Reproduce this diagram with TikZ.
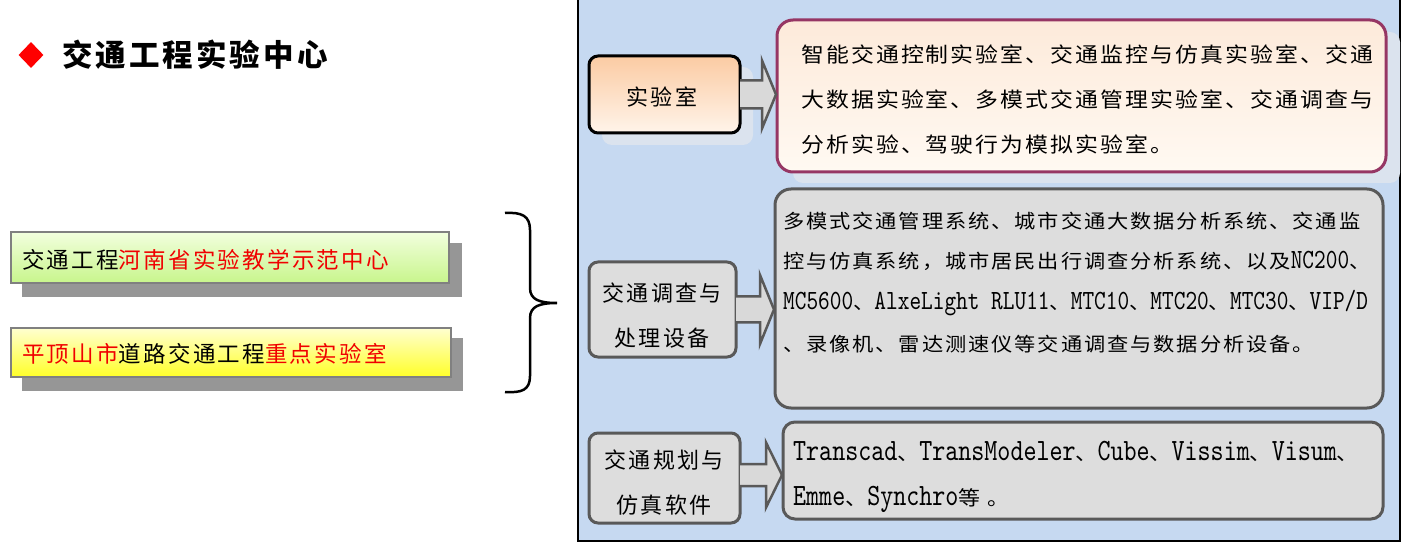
\documentclass[tikz,border=0pt]{standalone}
\usepackage{fontspec}
\usetikzlibrary{shapes.geometric,calc}
\newfontfamily\cjkls[LetterSpace=10]{Noto Sans CJK SC}
\newfontfamily\cjkr[FakeStretch=1.1,LetterSpace=10]{Noto Sans CJK SC}
\newfontfamily\cjkt[LetterSpace=10]{Noto Sans CJK SC}
\newfontfamily\monof{lmmono10-regular}[Extension=.otf,FakeStretch=0.8]
\newcommand\ascB[1]{{\monof\fontsize{27.8}{30}\selectfont #1}}
\newcommand\ascC[1]{{\monof\fontsize{31}{32}\selectfont #1}}
\newcommand\blockarr[5]{\filldraw[blockarrow] ($(#1)+(0,-#3)$) -- ($(#2)+(-#5,-#3)$) -- ($(#2)+(-#5,-#4)$) -- (#2) -- ($(#2)+(-#5,#4)$) -- ($(#2)+(-#5,#3)$) -- ($(#1)+(0,#3)$);}
\definecolor{panelblue}{RGB}{198,217,241}
\definecolor{shadecol}{RGB}{219,227,238}
\definecolor{peachtop}{RGB}{251,203,163}
\definecolor{peachbot}{RGB}{255,244,234}
\definecolor{plum}{RGB}{150,54,100}
\definecolor{creamtop}{RGB}{253,234,218}
\definecolor{creambot}{RGB}{255,249,242}
\definecolor{boxgray}{RGB}{221,221,221}
\definecolor{edgegray}{RGB}{89,89,89}
\definecolor{arrowfill}{RGB}{217,217,217}
\definecolor{greentop}{RGB}{242,255,222}
\definecolor{greenbot}{RGB}{200,245,140}
\definecolor{yellowtop}{RGB}{255,255,208}
\definecolor{yellowbot}{RGB}{255,255,40}
\definecolor{lshadow}{RGB}{150,150,150}
\definecolor{lborder}{RGB}{128,128,128}
\definecolor{tred}{RGB}{240,0,0}
\begin{document}
\begin{tikzpicture}[x=1pt,y=-1pt,
  plainbox/.style={rectangle,inner sep=0pt,outer sep=0pt},
  softshadow/.style={plainbox,fill=shadecol,rounded corners=10pt},
  labbox/.style={plainbox,draw=edgegray,fill=boxgray,line width=3pt,rounded corners=9pt},
  infobox/.style={plainbox,draw=edgegray,fill=boxgray,line width=3pt,rounded corners=16pt},
  leftbox/.style={plainbox,draw=lborder,line width=2pt},
  leftshadow/.style={plainbox,fill=lshadow},
  blockarrow/.style={draw=edgegray,fill=arrowfill,line width=2.5pt},
  labtext/.style={anchor=base,inner sep=0pt,font=\cjkls\fontsize{22}{26}\selectfont},
  lefttext/.style={anchor=base west,inner sep=0pt,font=\cjkls\fontsize{22.5}{26}\selectfont},
  rtextA/.style={anchor=base west,inner sep=0pt,font=\cjkr\fontsize{20.8}{26}\selectfont},
  rtextB/.style={anchor=base west,inner sep=0pt,font=\cjkr\fontsize{19.3}{26}\selectfont},
  rtextC/.style={anchor=base west,inner sep=0pt,font=\cjkr\fontsize{20}{26}\selectfont}
]
\useasboundingbox (0,0) rectangle (1403,545);
\fill[white] (0,0) rectangle (1403,545);

% title
\node[diamond,fill=red,minimum width=25pt,minimum height=26pt,inner sep=0pt] (dia) at (31,55) {};
\node[anchor=base west,inner sep=0pt,font=\cjkt\bfseries\fontsize{30.5}{34}\selectfont] (title) at (62,66.6) {交通工程实验中心};

% left boxes
\node[leftshadow,minimum width=440pt,minimum height=54pt] (las) at (242,270) {};
\node[leftbox,top color=greentop,bottom color=greenbot,minimum width=438pt,minimum height=51pt] (la) at (230,257.5) {};
\node[lefttext] (lat) at (22,268.5) {交通工程\textcolor{tred}{河南省实验教学示范中心}};
\node[leftshadow,minimum width=441pt,minimum height=53pt] (lbs) at (242.5,364.5) {};
\node[leftbox,top color=yellowtop,bottom color=yellowbot,minimum width=440pt,minimum height=49pt] (lb) at (231,352.5) {};
\node[lefttext] (lbt) at (22,362.5) {\textcolor{tred}{平顶山市}道路交通工程\textcolor{tred}{重点实验室}};

% brace
\draw[line width=2.5pt] (505,213) .. controls (522,212) and (530,216) .. (530,230)
  -- (530,288) .. controls (530,300) and (540,303) .. (557,303)
  .. controls (540,303) and (530,306) .. (530,318)
  -- (530,376) .. controls (530,390) and (522,393) .. (505,392);

% panel
\draw[fill=panelblue,line width=2.5pt] (578,-5) rectangle (1400,541);

% shadows
\node[softshadow,minimum width=151pt,minimum height=78pt] (b1ls) at (677.5,106) {};
\node[softshadow,minimum width=607pt,minimum height=151pt] (b1rs) at (1096.5,107.5) {};

% row 1
\node[plainbox,draw=black,line width=3pt,rounded corners=9pt,top color=peachtop,bottom color=peachbot,
  minimum width=151pt,minimum height=77pt] (b1l) at (664.5,94.5) {};
\node[plainbox,draw=plum,line width=3pt,rounded corners=16pt,top color=creamtop,bottom color=creambot,
  minimum width=609pt,minimum height=152pt] (b1r) at (1081.5,96) {};
\coordinate (a1s) at (b1l.east);
\coordinate (a1t) at ($(b1r.west |- b1l.east)+(-1,0)$);
\blockarr{a1s}{a1t}{14}{34}{14}
\node[labtext] (l1) at (662,105.4) {实验室};
\node[rtextA] (t1a) at (801,63) {智能交通控制实验室、交通监控与仿真实验室、交通};
\node[rtextA] (t1b) at (801,108) {大数据实验室、多模式交通管理实验室、交通调查与};
\node[rtextA] (t1c) at (801,153) {分析实验、驾驶行为模拟实验室。};

% row 2
\node[labbox,minimum width=147pt,minimum height=95pt] (b2l) at (662.5,309.5) {};
\node[infobox,minimum width=608pt,minimum height=219pt] (b2r) at (1079,298.5) {};
\coordinate (a2s) at (b2l.east);
\coordinate (a2t) at ($(b2r.west |- b2l.east)+(-1,0)$);
\blockarr{a2s}{a2t}{13}{34.5}{14}
\node[labtext] (l2a) at (662,301.4) {交通调查与};
\node[labtext] (l2b) at (662,346.4) {处理设备};
\node[rtextB] (t2a) at (783,229) {多模式交通管理系统、城市交通大数据分析系统、交通监};
\node[rtextB] (t2b) at (783,269) {控与仿真系统，城市居民出行调查分析系统、以及\ascB{NC200}、};
\node[rtextB] (t2c) at (783,310) {\ascB{MC5600}、\ascB{AlxeLight RLU11}、\ascB{MTC10}、\ascB{MTC20}、\ascB{MTC30}、\ascB{VIP/D}};
\node[rtextB] (t2d) at (783,352) {、录像机、雷达测速仪等交通调查与数据分析设备。};

% row 3
\node[labbox,minimum width=151pt,minimum height=90pt] (b3l) at (664.5,478) {};
\node[infobox,rounded corners=12pt,minimum width=600pt,minimum height=97pt] (b3r) at (1083,470.5) {};
\coordinate (a3s) at ($(b3l.east)+(0,-3)$);
\coordinate (a3t) at ($(b3r.west |- a3s)+(-1,0)$);
\blockarr{a3s}{a3t}{11}{32.5}{16}
\node[labtext] (l3a) at (664,468.4) {交通规划与};
\node[labtext] (l3b) at (664,513.4) {仿真软件};
\node[rtextC] (t3a) at (793,460) {\ascC{Transcad}、\ascC{TransModeler}、\ascC{Cube}、\ascC{Vissim}、\ascC{Visum}、};
\node[rtextC] (t3b) at (793,505) {\ascC{Emme}、\ascC{Synchro}等 。};
\end{tikzpicture}
\end{document}
